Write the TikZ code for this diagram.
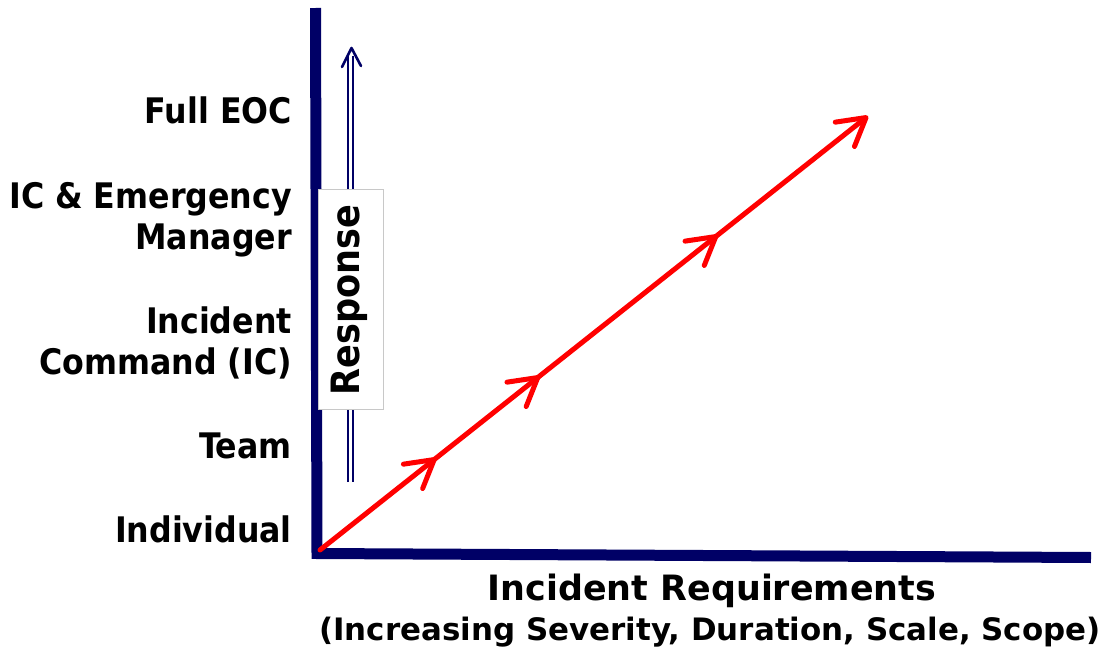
\documentclass[tikz,border=0pt]{standalone}
\usepackage{fontspec}
\setmainfont{DejaVu Sans Condensed}[BoldFont={DejaVu Sans Condensed Bold}]
\newfontfamily\widefam{DejaVu Sans}
\usetikzlibrary{arrows.meta,decorations.markings}
\definecolor{axisnavy}{RGB}{0,0,102}
\definecolor{arrowred}{RGB}{255,0,0}
\definecolor{boxgray}{RGB}{200,200,200}
\tikzset{redbarb/.tip={Straight Barb[length=27pt,width=31pt,round]}}
\begin{document}
\begin{tikzpicture}[x=1pt,y=-1pt,
  lbl/.style={font=\fontsize{35.2}{40}\selectfont\bfseries, anchor=base east, inner sep=0pt},
  xlbl/.style={font=\widefam\fontsize{34.9}{40}\selectfont\bfseries, anchor=base, inner sep=0pt},
  redline/.style={arrowred, line width=5pt, line cap=round},
  axisline/.style={axisnavy, line width=11pt, line join=miter}]
\useasboundingbox (0,0) rectangle (1112,653);
\fill[white] (0,0) rectangle (1112,653);
% axes
\coordinate (ytop) at (315.5,8);
\coordinate (origin) at (317,553.5);
\coordinate (xend) at (1091,557.5);
\draw[axisline] (ytop) -- (origin) -- (xend);
% response double arrow
\coordinate (rbot) at (350.5,482);
\coordinate (rtop) at (350.5,56);
\coordinate (rtip) at (351.5,48);
\coordinate (rwl) at (342,67);
\coordinate (rwr) at (361,66);
\draw[axisnavy, line width=1.8pt, double=white, double distance=3pt] (rbot) -- (rtop);
\draw[axisnavy, line width=2.6pt, line cap=round, line join=round] (rwl) -- (rtip) -- (rwr);
% response box
\node[draw=boxgray, fill=white, minimum width=65pt, minimum height=220pt, inner sep=0pt] (respbox) at (350.5,299) {};
\node[font=\fontsize{39}{44}\selectfont\bfseries, rotate=90, inner sep=0pt] (resp) at (349,300) {Response};
% red growth arrow
\coordinate (rstart) at (320,550);
\coordinate (rend) at (868,116);
\draw[redline,
  decoration={markings,
    mark=at position 0.212 with {\arrow{redbarb}},
    mark=at position 0.401 with {\arrow{redbarb}},
    mark=at position 0.726 with {\arrow{redbarb}}},
  postaction=decorate, -{redbarb}] (rstart) -- (rend);
% level labels
\node[lbl] (eoc) at (292,123) {Full EOC};
\node[lbl] (icem1) at (292,208) {IC \& Emergency};
\node[lbl] (icem2) at (292,249) {Manager};
\node[lbl] (ic1) at (292,333) {Incident};
\node[lbl] (ic2) at (292,374) {Command (IC)};
\node[lbl] (team) at (292,458) {Team};
\node[lbl] (indiv) at (292,542) {Individual};
% x-axis labels
\node[xlbl] (xl1) at (712,600) {Incident Requirements};
\node[xlbl, font=\widefam\fontsize{30.9}{38}\selectfont\bfseries] (xl2) at (710,640) {(Increasing Severity, Duration, Scale, Scope)};
\end{tikzpicture}
\end{document}
